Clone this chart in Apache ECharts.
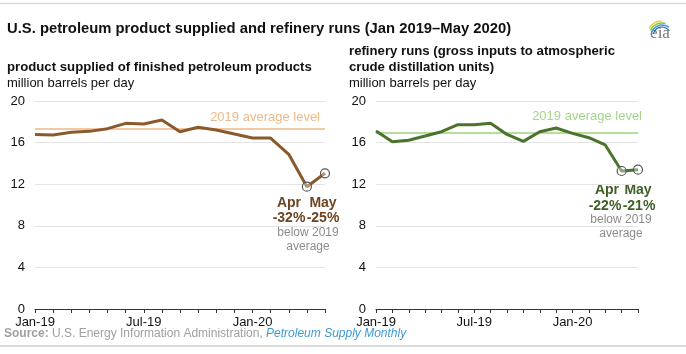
<!DOCTYPE html>
<html><head><meta charset="utf-8">
<script src="https://cdn.jsdelivr.net/npm/echarts@6/dist/echarts.min.js"></script>
<style>html,body{margin:0;padding:0;background:#fff}#c{width:686px;height:354px}</style>
</head><body><div id="c"></div>
<script>
const months = ['Jan-19','Feb-19','Mar-19','Apr-19','May-19','Jun-19','Jul-19','Aug-19','Sep-19','Oct-19','Nov-19','Dec-19','Jan-20','Feb-20','Mar-20','Apr-20','May-20'];
const productSupplied = [16.79,16.73,16.99,17.08,17.34,17.85,17.79,18.17,17.05,17.47,17.21,16.83,16.44,16.44,14.87,11.76,13.05];
const refineryRuns = [17.12,16.09,16.22,16.63,17.05,17.72,17.72,17.85,16.79,16.12,17.05,17.40,16.89,16.47,15.77,13.27,13.40];
const avgSupplied2019 = 17.31;
const avgRuns2019 = 16.99;
const yTicks = [0,4,8,12,16,20];
const shownXLabels = ['Jan-19','Jul-19','Jan-20'];

const FONT = '"Liberation Sans", Arial, sans-serif';
const chart = echarts.init(document.getElementById('c'), null, {renderer:'canvas'});

function xAxis(gi){
  return {type:'category', gridIndex:gi, data:months, boundaryGap:false,
    axisLine:{lineStyle:{color:'#333', width:1}},
    axisTick:{show:true, interval:0, length:4, lineStyle:{color:'#333'}},
    axisLabel:{interval:0, formatter:v=>shownXLabels.includes(v)?v:'', color:'#111', fontSize:13, fontFamily:FONT, margin:7},
    splitLine:{show:false}};
}
function yAxis(gi){
  return {type:'value', gridIndex:gi, min:yTicks[0], max:yTicks[yTicks.length-1], interval:4,
    axisLine:{show:false}, axisTick:{show:false},
    axisLabel:{color:'#111', fontSize:13, fontFamily:FONT, margin:10},
    splitLine:{lineStyle:{color:'#e3e3e3', width:1}}};
}
function series(gi, data, color, avg, avgColor, labelColor, dist){
  return {type:'line', xAxisIndex:gi, yAxisIndex:gi, data:data.map((v,i)=>({value:v,
      symbol: i>=data.length-2 ? 'circle':'none', symbolSize:9,
      itemStyle:{color:'rgba(255,255,255,0.35)', borderColor:'#555', borderWidth:1.2}})),
    showSymbol:true, lineStyle:{color:color, width:3}, z:5, animation:false,
    markLine:{silent:true, symbol:'none', animation:false, z:2,
      lineStyle:{color:avgColor, width:2, type:'solid'},
      label:{show:true, position:'insideEndTop', formatter:'2019 average level', color:labelColor, fontSize:13, fontFamily:FONT, distance:dist},
      data:[{yAxis:avg}]}};
}

const titleColor = '#111';
const option = {
  animation:false,
  grid:[{left:35, top:101, width:290, height:208},{left:376, top:101, width:262, height:208}],
  xAxis:[xAxis(0), xAxis(1)],
  yAxis:[yAxis(0), yAxis(1)],
  series:[
    series(0, productSupplied, '#8a5a2b', avgSupplied2019, '#f3c9a4', '#efb987', [5,5]),
    series(1, refineryRuns, '#4a742b', avgRuns2019, '#b7dd9c', '#a6d58a', [-4,9])
  ],
  graphic:[
    {type:'line', shape:{x1:0,y1:3.5,x2:686,y2:3.5}, style:{stroke:'#d9d9d9', lineWidth:1.5}},
    {type:'line', shape:{x1:0,y1:346,x2:686,y2:346}, style:{stroke:'#d9d9d9', lineWidth:2}},
    {type:'text', left:7, top:21, style:{text:'U.S. petroleum product supplied and refinery runs (Jan 2019\u2013May 2020)', font:'bold 14.8px '+FONT, fill:titleColor}},
    {type:'text', left:7, top:61, style:{text:'product supplied of finished petroleum products', font:'bold 13.2px '+FONT, fill:titleColor}},
    {type:'text', left:7, top:77, style:{text:'million barrels per day', font:'13px '+FONT, fill:titleColor}},
    {type:'text', left:349, top:45, style:{text:'refinery runs (gross inputs to atmospheric', font:'bold 13.2px '+FONT, fill:titleColor}},
    {type:'text', left:349, top:61, style:{text:'crude distillation units)', font:'bold 13.2px '+FONT, fill:titleColor}},
    {type:'text', left:349, top:77, style:{text:'million barrels per day', font:'13px '+FONT, fill:titleColor}},
    // annotations left
    {type:'text', x:289, y:203, style:{text:'Apr', font:'bold 14px '+FONT, fill:'#6e4520', align:'center', verticalAlign:'middle'}},
    {type:'text', x:323, y:203, style:{text:'May', font:'bold 14px '+FONT, fill:'#6e4520', align:'center', verticalAlign:'middle'}},
    {type:'text', x:289, y:218, style:{text:'-32%', font:'bold 14px '+FONT, fill:'#6e4520', align:'center', verticalAlign:'middle'}},
    {type:'text', x:323, y:218, style:{text:'-25%', font:'bold 14px '+FONT, fill:'#6e4520', align:'center', verticalAlign:'middle'}},
    {type:'text', x:308, y:233, style:{text:'below 2019', font:'12px '+FONT, fill:'#8c8c8c', align:'center', verticalAlign:'middle'}},
    {type:'text', x:308, y:247, style:{text:'average', font:'12px '+FONT, fill:'#8c8c8c', align:'center', verticalAlign:'middle'}},
    // annotations right
    {type:'text', x:607, y:190.5, style:{text:'Apr', font:'bold 14px '+FONT, fill:'#3f5f25', align:'center', verticalAlign:'middle'}},
    {type:'text', x:638, y:190.5, style:{text:'May', font:'bold 14px '+FONT, fill:'#3f5f25', align:'center', verticalAlign:'middle'}},
    {type:'text', x:605, y:206, style:{text:'-22%', font:'bold 14px '+FONT, fill:'#3f5f25', align:'center', verticalAlign:'middle'}},
    {type:'text', x:639, y:206, style:{text:'-21%', font:'bold 14px '+FONT, fill:'#3f5f25', align:'center', verticalAlign:'middle'}},
    {type:'text', x:621, y:220, style:{text:'below 2019', font:'12px '+FONT, fill:'#8c8c8c', align:'center', verticalAlign:'middle'}},
    {type:'text', x:621, y:234, style:{text:'average', font:'12px '+FONT, fill:'#8c8c8c', align:'center', verticalAlign:'middle'}},
    // source
    {type:'text', left:4, top:327.5, style:{rich:{b:{font:'bold 12px '+FONT, fill:'#a0a0a0'}, n:{font:'12px '+FONT, fill:'#a0a0a0'}, i:{font:'italic 12px '+FONT, fill:'#3d9ad6'}},
      text:'{b|Source:}{n| U.S. Energy Information Administration, }{i|Petroleum Supply Monthly}'}},
    // eia logo
    {type:'text', x:660, y:34, style:{text:'eia', font:'17px "Liberation Serif", "DejaVu Serif", serif', fill:'#7a7a7a', align:'center', verticalAlign:'middle'}},
    {type:'arc', shape:{cx:662, cy:36, r:15, startAngle:-2.6, endAngle:-1.6}, style:{stroke:'#e8d23a', lineWidth:1.5, fill:null}},
    {type:'arc', shape:{cx:662, cy:36, r:13, startAngle:-2.7, endAngle:-1.3}, style:{stroke:'#8cc63f', lineWidth:1.5, fill:null}},
    {type:'arc', shape:{cx:662, cy:36, r:11, startAngle:-2.8, endAngle:-0.9}, style:{stroke:'#3d9ad6', lineWidth:1.5, fill:null}},
    {type:'arc', shape:{cx:662, cy:36, r:9, startAngle:-2.9, endAngle:-0.6}, style:{stroke:'#1f5fa8', lineWidth:1.2, fill:null}}
  ]
};
chart.setOption(option);
</script></body></html>
